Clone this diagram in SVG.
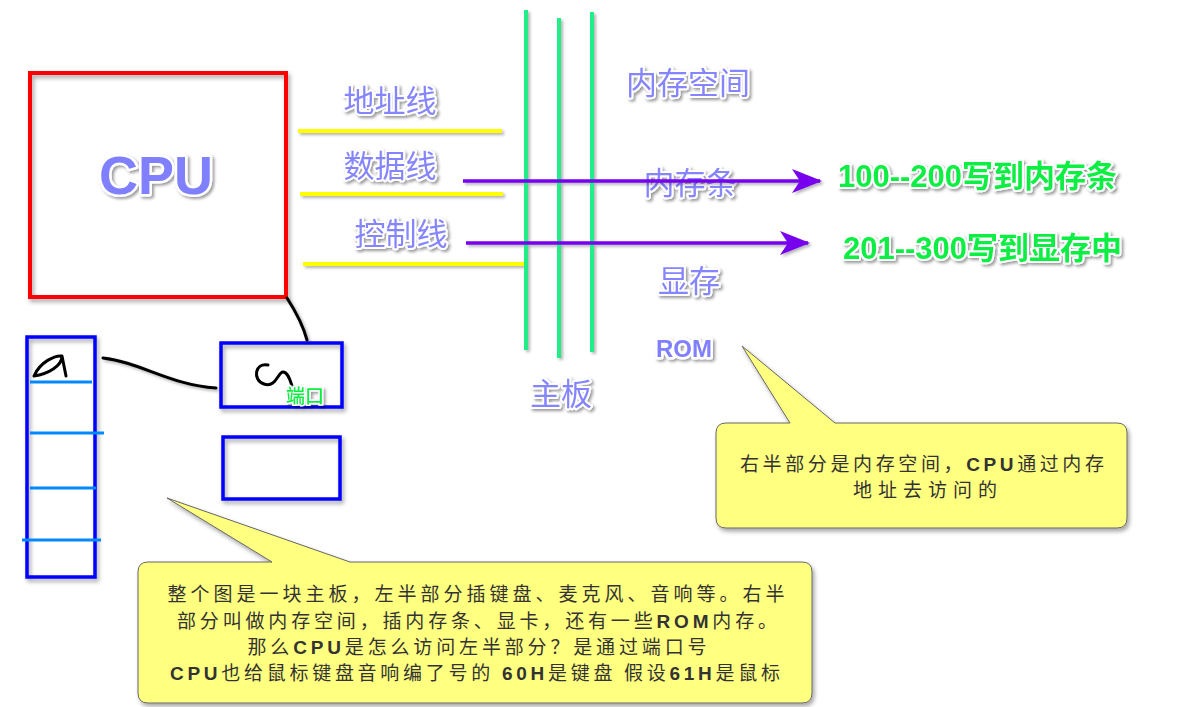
<svg xmlns="http://www.w3.org/2000/svg" width="1187" height="707" viewBox="0 0 1187 707">
<defs>
<filter id="sh" x="-20%" y="-20%" width="140%" height="140%"><feDropShadow dx="2" dy="3" stdDeviation="2" flood-color="#000" flood-opacity="0.35"/></filter>
<filter id="lsh" filterUnits="userSpaceOnUse" x="0" y="0" width="1187" height="707"><feDropShadow dx="2" dy="2" stdDeviation="1.5" flood-color="#000" flood-opacity="0.3"/></filter>
<filter id="tsh" x="-20%" y="-30%" width="140%" height="160%"><feDropShadow dx="2" dy="2" stdDeviation="1.5" flood-color="#000" flood-opacity="0.4"/></filter>
<marker id="ah" viewBox="0 0 30 24" refX="28" refY="12" markerWidth="30" markerHeight="24" markerUnits="userSpaceOnUse" orient="auto">
<path d="M0,0 L30,12 L0,24 L8,12 Z" fill="#7700ee"/>
</marker>
<style>
.lbl{font-family:"Noto Sans CJK SC","Liberation Sans",sans-serif;font-size:31px;fill:#8585ff;stroke:#fff;stroke-width:4px;paint-order:stroke;stroke-linejoin:round;filter:url(#tsh)}
.grn{font-family:"Liberation Sans","Noto Sans CJK SC",sans-serif;font-weight:bold;font-size:31px;fill:#11ee44;stroke:#fff;stroke-width:4px;paint-order:stroke;stroke-linejoin:round;filter:url(#tsh)}
.big{font-family:"Liberation Sans",sans-serif;font-weight:bold;fill:#8080ff;stroke:#fff;stroke-width:5px;paint-order:stroke;stroke-linejoin:round;filter:url(#tsh)}
.yl{stroke:#ffff00;stroke-width:4;fill:none}
.gl{stroke:#22ee88;stroke-width:4;fill:none}
.pa{stroke:#7700ee;stroke-width:3.5;fill:none;marker-end:url(#ah)}
.bb{stroke:#0000ff;stroke-width:3.5;fill:none;filter:url(#sh)}
.lb{stroke:#0088ff;stroke-width:3;fill:none}
.ink{stroke:#000;stroke-width:3;fill:none;stroke-linecap:round;stroke-linejoin:round}
.co{fill:#ffff80;stroke:#666;stroke-width:1;filter:url(#sh)}
.ct{font-family:"Noto Sans CJK SC","Liberation Sans",sans-serif;font-size:19px;fill:#333;text-anchor:middle}
.ct tspan.b{font-family:"Liberation Sans",sans-serif;font-weight:bold}
</style>
</defs>
<rect width="1187" height="707" fill="#fff"/>

<g id="cpu">
<rect x="30" y="73" width="256" height="224" fill="none" stroke="#ff0000" stroke-width="4" filter="url(#sh)"/>
<text class="big" x="156" y="194" font-size="54" text-anchor="middle">CPU</text>
</g>

<g id="bus-labels">
<text class="lbl" x="390" y="112" text-anchor="middle">地址线</text>
<text class="lbl" x="390" y="177" text-anchor="middle">数据线</text>
<text class="lbl" x="401" y="245" text-anchor="middle">控制线</text>
</g>

<g id="memory-labels">
<text class="lbl" x="688" y="94" text-anchor="middle">内存空间</text>
<text class="lbl" x="690" y="194" text-anchor="middle">内存条</text>
<text class="lbl" x="689" y="292" text-anchor="middle">显存</text>
<text class="big" x="684" y="357" font-size="24" text-anchor="middle">ROM</text>
<text class="lbl" x="561" y="405" text-anchor="middle">主板</text>
</g>

<g id="results">
<text class="grn" x="838" y="187">100--200写到内存条</text>
<text class="grn" x="843" y="259">201--300写到显存中</text>
</g>

<g id="keyboard">
<rect class="bb" x="27" y="337" width="68" height="240"/>
<line class="lb" x1="30" y1="382" x2="92" y2="382"/>
<line class="lb" x1="30" y1="433" x2="104" y2="433"/>
<line class="lb" x1="30" y1="488" x2="96" y2="488"/>
<line class="lb" x1="22" y1="540" x2="101" y2="540"/>
<path class="ink" d="M34,376 C40,362 55,355 62,356 C62,366 48,374 34,376 M62,356 L66,376"/>
</g>

<g id="port">
<rect class="bb" x="221" y="343" width="121" height="64"/>
<path class="ink" d="M268,365 C255,362 252,380 264,384 C276,388 278,372 283,372 C288,372 290,380 292,386"/>
<text x="286" y="403" font-family="Noto Sans CJK SC,sans-serif" font-size="19" font-weight="500" fill="#11ee44" stroke="#fff" stroke-width="3" paint-order="stroke" filter="url(#tsh)">端口</text>
</g>

<g id="device2">
<rect class="bb" x="223" y="437" width="117" height="62"/>
</g>

<g id="callout-left">
<path class="co" d="M150,562 L272,562 L167,498 L350,562 L802,562 Q812,562 812,572 L812,693 Q812,703 802,703 L148,703 Q138,703 138,693 L138,572 Q138,562 148,562 Z"/>
<text class="ct" x="476" y="601" textLength="617" lengthAdjust="spacing">整个图是一块主板，左半部分插键盘、麦克风、音响等。右半</text>
<text class="ct" x="477" y="628" textLength="600" lengthAdjust="spacing">部分叫做内存空间，插内存条、显卡，还有一些<tspan class="b">ROM</tspan>内存。</text>
<text class="ct" x="477" y="654" textLength="459" lengthAdjust="spacing">那么<tspan class="b">CPU</tspan>是怎么访问左半部分？是通过端口号</text>
<text class="ct" x="475" y="680" textLength="610" lengthAdjust="spacing"><tspan class="b">CPU</tspan>也给鼠标键盘音响编了号的  <tspan class="b">60H</tspan>是键盘  假设<tspan class="b">61H</tspan>是鼠标</text>
</g>

<g id="callout-right">
<path class="co" d="M726,423 L790,423 L742,346 L835,423 L1117,423 Q1127,423 1127,433 L1127,518 Q1127,528 1117,528 L726,528 Q716,528 716,518 L716,433 Q716,423 726,423 Z"/>
<text class="ct" x="922" y="471" textLength="364" lengthAdjust="spacing">右半部分是内存空间，<tspan class="b">CPU</tspan>通过内存</text>
<text class="ct" x="925" y="497" textLength="144" lengthAdjust="spacing">地址去访问的</text>
</g>

<g id="connectors" filter="url(#lsh)">
<line class="yl" x1="298" y1="131" x2="502" y2="131"/>
<line class="yl" x1="300" y1="194" x2="503" y2="194"/>
<line class="yl" x1="303" y1="264" x2="527" y2="264"/>
<line class="gl" x1="526" y1="10" x2="526" y2="350"/>
<line class="gl" x1="559" y1="18" x2="559" y2="358"/>
<line class="gl" x1="592" y1="12" x2="592" y2="352"/>
<line class="pa" x1="463" y1="181" x2="820" y2="181"/>
<line class="pa" x1="466" y1="243" x2="808" y2="243"/>
<path class="ink" d="M287,298 C296,312 303,325 307,340"/>
<path class="ink" d="M103,358 C140,362 170,385 216,388"/>
</g>
</svg>
